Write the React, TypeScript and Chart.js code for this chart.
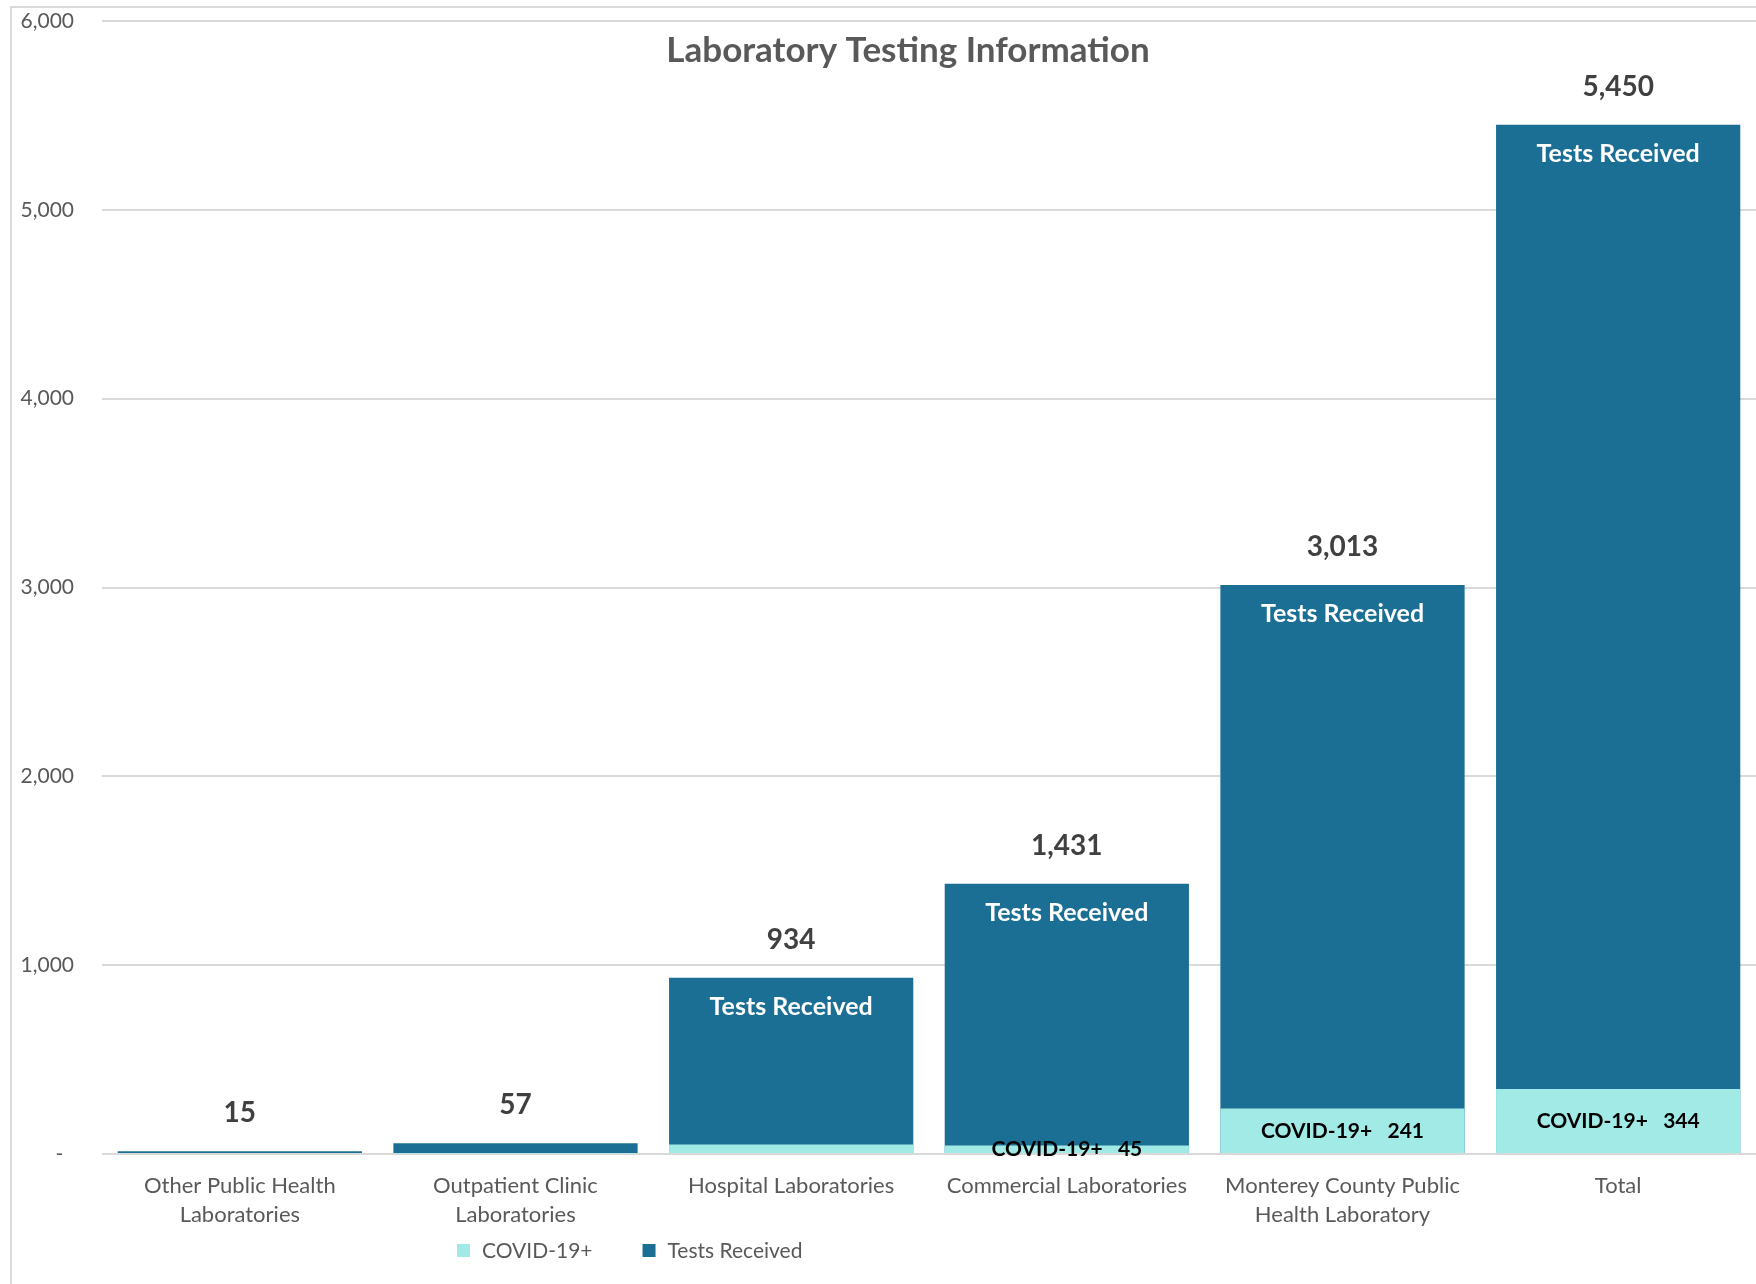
import React, { useEffect, useRef } from 'react';
import { Chart, registerables } from 'chart.js';

Chart.register(...registerables);

const categories: (string | string[])[] = [
  ['Other Public Health', 'Laboratories'],
  ['Outpatient Clinic', 'Laboratories'],
  'Hospital Laboratories',
  'Commercial Laboratories',
  ['Monterey County Public', 'Health Laboratory'],
  'Total',
];
const testsReceived = [15, 57, 934, 1431, 3013, 5450];
const covidPositive = [5, 3, 50, 45, 241, 344];
const yTickLabels = ['-  ', '1,000', '2,000', '3,000', '4,000', '5,000', '6,000'];
const showTestsLabel = [false, false, true, true, true, true];
const showCovidLabel = [false, false, false, true, true, true];

const TITLE = 'Laboratory Testing Information';
const FONT = 'Lato, "Open Sans", sans-serif';
const DARK = '#1C6F94';
const LIGHT = '#A2EAE6';
const GRAY = '#595959';

const labelPlugin = {
  id: 'customLabels',
  beforeDraw(chart: any) {
    const ctx = chart.ctx;
    ctx.save();
    ctx.fillStyle = '#ffffff';
    ctx.fillRect(0, 0, chart.width, chart.height);
    ctx.strokeStyle = '#d9d9d9';
    ctx.lineWidth = 2;
    ctx.strokeRect(11, 7, chart.width + 100, chart.height + 100);
    ctx.restore();
  },
  afterDatasetsDraw(chart: any) {
    const ctx = chart.ctx;
    const covidMeta = chart.getDatasetMeta(0);
    const testsMeta = chart.getDatasetMeta(1);
    ctx.save();
    ctx.textAlign = 'center';
    ctx.textBaseline = 'middle';
    testsMeta.data.forEach((bar: any, i: number) => {
      const v = chart.data.datasets[1].data[i] as number;
      ctx.fillStyle = '#404040';
      ctx.font = `bold 28px ${FONT}`;
      ctx.fillText(v.toLocaleString('en-US'), bar.x, bar.y - 38);
      if (showTestsLabel[i]) {
        ctx.fillStyle = '#ffffff';
        ctx.font = `bold 25px ${FONT}`;
        ctx.fillText(chart.data.datasets[1].label, bar.x, bar.y + 29);
      }
    });
    covidMeta.data.forEach((bar: any, i: number) => {
      if (!showCovidLabel[i]) return;
      const v = chart.data.datasets[0].data[i] as number;
      ctx.fillStyle = '#000000';
      ctx.font = `bold 21px ${FONT}`;
      ctx.fillText(`${chart.data.datasets[0].label}   ${v.toLocaleString('en-US')}`, bar.x, (bar.y + bar.base) / 2);
    });
    ctx.restore();
  },
  afterDraw(chart: any) {
    const ctx = chart.ctx;
    ctx.save();
    ctx.fillStyle = GRAY;
    ctx.font = `bold 35px ${FONT}`;
    ctx.textAlign = 'center';
    ctx.textBaseline = 'middle';
    ctx.fillText(TITLE, 908, 51);

    // legend
    ctx.font = `21px ${FONT}`;
    ctx.textAlign = 'left';
    let x = 457;
    const y = 1251;
    chart.data.datasets.forEach((ds: any) => {
      ctx.fillStyle = ds.backgroundColor;
      ctx.fillRect(x, y - 7, 13, 13);
      x += 25;
      ctx.fillStyle = GRAY;
      ctx.fillText(ds.label, x, y);
      x += ctx.measureText(ds.label).width + 50;
    });
    ctx.restore();
  },
};

export default function App() {
  const ref = useRef<HTMLCanvasElement>(null);
  useEffect(() => {
    document.body.style.margin = '0';
    const chart = new Chart(ref.current!, {
      type: 'bar',
      data: {
        labels: categories,
        datasets: [
          {
            label: 'COVID-19+',
            data: covidPositive,
            backgroundColor: LIGHT,
            grouped: false,
            categoryPercentage: 1,
            barPercentage: 0.886,
          },
          {
            label: 'Tests Received',
            data: testsReceived,
            backgroundColor: DARK,
            grouped: false,
            categoryPercentage: 1,
            barPercentage: 0.886,
          },
        ],
      },
      options: {
        responsive: false,
        animation: false,
        layout: { padding: { top: 21, right: 0, bottom: 0, left: 0 } },
        plugins: {
          legend: { display: false },
          tooltip: { enabled: false },
          title: { display: false },
        },
        scales: {
          x: {
            grid: { display: false, drawTicks: false },
            border: { display: false },
            ticks: {
              padding: 17,
              color: GRAY,
              font: { family: FONT, size: 22, lineHeight: 1.32 },
              maxRotation: 0,
              autoSkip: false,
            },
            afterFit(s: any) {
              s.height = 130;
              s.paddingTop = 0;
              s.paddingBottom = 0;
            },
          },
          y: {
            min: 0,
            max: 6000,
            ticks: {
              stepSize: 1000,
              padding: 28,
              color: GRAY,
              font: { family: FONT, size: 21 },
              callback: (_v: any, i: number) => yTickLabels[i],
            },
            grid: { color: '#d9d9d9', lineWidth: 2, drawTicks: false },
            border: { display: false },
            afterFit(s: any) {
              s.width = 102;
              s.paddingTop = 0;
              s.paddingBottom = 0;
            },
          },
        },
      },
      plugins: [labelPlugin],
    });
    return () => chart.destroy();
  }, []);
  return (
    <div style={{ width: 1756, height: 1284 }}>
      <canvas ref={ref} width={1756} height={1284} />
    </div>
  );
}
